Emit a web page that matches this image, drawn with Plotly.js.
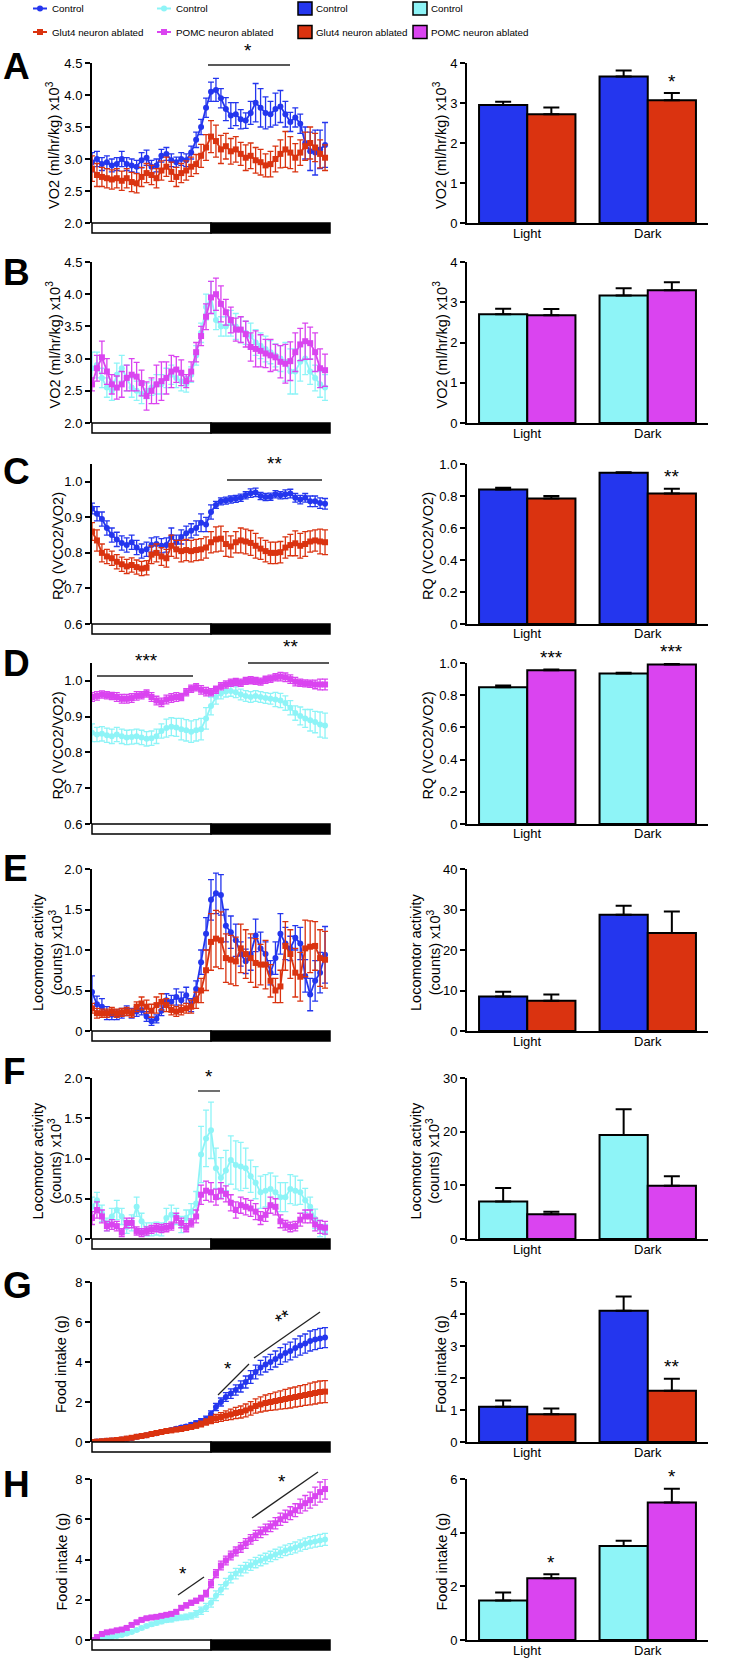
<!DOCTYPE html>
<html><head><meta charset="utf-8">
<script src="https://cdn.plot.ly/plotly-3.0.1.min.js"></script>
<style>html,body{margin:0;padding:0;background:#fff}</style>
</head><body><div id="chart" style="width:754px;height:1659px"></div>
<script>
// ---------------- DATA ----------------
const timeHours = [0,0.5,1,1.5,2,2.5,3,3.5,4,4.5,5,5.5,6,6.5,7,7.5,8,8.5,9,9.5,10,10.5,11,11.5,
  12,12.5,13,13.5,14,14.5,15,15.5,16,16.5,17,17.5,18,18.5,19,19.5,20,20.5,21,21.5,22,22.5,23,23.5];

// A: VO2, Glut4 model
const vo2Glut4Ctrl = [2.95,3.0,2.92,2.95,2.9,2.92,3.0,2.92, 2.9,2.88,2.98,3.02,2.88,2.9,3.05,3.08,
  2.98,2.95,3.0,2.98,3.1,3.3,3.5,3.8, 4.05,4.08,3.95,3.78,3.68,3.7,3.62,3.6,
  3.72,3.88,3.8,3.72,3.7,3.78,3.82,3.7, 3.58,3.65,3.55,3.25,3.12,3.1,3.15,3.22];
const vo2Glut4CtrlErr = [0.15,0.12,0.1,0.1,0.1,0.1,0.12,0.1, 0.1,0.1,0.12,0.12,0.1,0.1,0.1,0.1,
  0.1,0.08,0.1,0.1,0.1,0.12,0.12,0.15, 0.15,0.18,0.15,0.18,0.2,0.18,0.15,0.12,
  0.18,0.3,0.3,0.25,0.2,0.25,0.25,0.2, 0.15,0.15,0.15,0.25,0.3,0.35,0.3,0.35];
const vo2Glut4Abl = [2.85,2.75,2.72,2.7,2.68,2.7,2.66,2.7, 2.64,2.62,2.72,2.78,2.75,2.7,2.82,2.88,
  2.8,2.72,2.78,2.82,2.88,2.92,3.05,3.18, 3.35,3.28,3.15,3.2,3.12,3.15,3.08,3.02,
  3.05,2.98,2.95,2.9,2.92,3.0,3.08,3.15, 3.1,3.02,3.1,3.2,3.25,3.18,3.08,3.02];
const vo2Glut4AblErr = [0.2,0.18,0.15,0.15,0.15,0.15,0.15,0.15, 0.15,0.15,0.15,0.15,0.15,0.15,0.15,0.15,
  0.15,0.15,0.15,0.15,0.15,0.15,0.18,0.2, 0.25,0.25,0.22,0.2,0.2,0.2,0.18,0.2,
  0.2,0.2,0.2,0.18,0.2,0.2,0.22,0.28, 0.25,0.22,0.2,0.22,0.25,0.22,0.22,0.2];

// B: VO2, POMC model
const vo2PomcCtrl = [2.85,2.9,2.7,2.55,2.5,2.75,2.85,2.7, 2.55,2.5,2.45,2.5,2.55,2.6,2.6,2.7,
  2.75,2.7,2.65,2.6,2.75,3.05,3.4,3.8, 3.95,3.6,3.5,3.5,3.55,3.5,3.45,3.4,
  3.35,3.25,3.2,3.15,3.1,3.05,3.0,2.95, 2.8,2.8,2.95,3.0,2.8,2.7,2.6,2.55];
const vo2PomcCtrlErr = [0.25,0.2,0.15,0.15,0.15,0.18,0.2,0.2, 0.15,0.15,0.15,0.12,0.12,0.15,0.15,0.15,
  0.15,0.15,0.15,0.12,0.12,0.15,0.15,0.2, 0.25,0.15,0.15,0.15,0.2,0.2,0.2,0.18,
  0.2,0.2,0.2,0.2,0.18,0.18,0.2,0.3, 0.35,0.35,0.3,0.25,0.2,0.2,0.2,0.2];
const vo2PomcAbl = [2.6,2.85,3.02,2.8,2.6,2.55,2.6,2.7, 2.75,2.72,2.62,2.42,2.5,2.6,2.65,2.7,
  2.8,2.83,2.78,2.65,2.8,3.1,3.35,3.65, 3.95,4.0,3.85,3.72,3.6,3.45,3.45,3.38,
  3.18,3.15,3.12,3.08,3.05,3.02,2.95,2.92, 2.96,3.1,3.22,3.27,3.24,3.1,2.85,2.82];
const vo2PomcAblErr = [0.1,0.2,0.25,0.2,0.15,0.18,0.2,0.2, 0.25,0.22,0.2,0.22,0.2,0.3,0.3,0.25,
  0.25,0.2,0.2,0.1,0.15,0.15,0.15,0.2, 0.25,0.25,0.28,0.2,0.2,0.18,0.2,0.2,
  0.22,0.28,0.25,0.22,0.25,0.2,0.25,0.3, 0.3,0.3,0.25,0.28,0.25,0.3,0.3,0.25];

// C: RQ, Glut4 model
const rqGlut4Ctrl = [0.925,0.91,0.895,0.87,0.85,0.838,0.828,0.822, 0.83,0.815,0.805,0.81,0.822,0.825,0.82,0.822,
  0.845,0.83,0.845,0.855,0.862,0.87,0.885,0.88, 0.915,0.935,0.945,0.947,0.95,0.952,0.955,0.962,
  0.968,0.97,0.96,0.957,0.958,0.965,0.962,0.965, 0.967,0.955,0.95,0.955,0.945,0.945,0.94,0.938];
const rqGlut4CtrlErr = [0.015,0.02,0.02,0.02,0.02,0.02,0.02,0.02, 0.02,0.02,0.02,0.02,0.02,0.02,0.02,0.02,
  0.025,0.02,0.02,0.02,0.02,0.02,0.025,0.02, 0.02,0.01,0.01,0.01,0.01,0.01,0.01,0.01,
  0.012,0.012,0.01,0.01,0.01,0.01,0.01,0.012, 0.012,0.012,0.012,0.012,0.015,0.015,0.015,0.015];
const rqGlut4Abl = [0.86,0.835,0.8,0.79,0.785,0.775,0.768,0.762, 0.766,0.76,0.756,0.758,0.795,0.8,0.79,0.785,
  0.82,0.81,0.805,0.808,0.805,0.808,0.81,0.815, 0.83,0.838,0.84,0.825,0.818,0.83,0.835,0.832,
  0.828,0.82,0.812,0.805,0.8,0.8,0.802,0.815, 0.822,0.827,0.82,0.825,0.832,0.835,0.832,0.83];
const rqGlut4AblErr = [0.025,0.03,0.025,0.02,0.02,0.02,0.02,0.02, 0.02,0.02,0.02,0.02,0.025,0.025,0.025,0.025,
  0.03,0.025,0.03,0.03,0.03,0.03,0.03,0.03, 0.03,0.035,0.035,0.035,0.03,0.03,0.035,0.035,
  0.035,0.035,0.03,0.03,0.03,0.03,0.03,0.03, 0.03,0.035,0.035,0.035,0.03,0.03,0.035,0.035];

// D: RQ, POMC model
const rqPomcCtrl = [0.855,0.85,0.852,0.848,0.845,0.85,0.845,0.842, 0.843,0.845,0.842,0.838,0.84,0.845,0.86,0.868,
  0.872,0.87,0.865,0.862,0.858,0.862,0.865,0.895, 0.93,0.955,0.965,0.97,0.972,0.968,0.962,0.958,
  0.955,0.958,0.955,0.952,0.95,0.948,0.945,0.938, 0.925,0.91,0.902,0.895,0.89,0.885,0.878,0.875];
const rqPomcCtrlErr = [0.025,0.02,0.02,0.02,0.02,0.02,0.02,0.02, 0.02,0.02,0.02,0.02,0.02,0.02,0.02,0.025,
  0.025,0.025,0.03,0.03,0.03,0.03,0.03,0.03, 0.025,0.02,0.015,0.015,0.015,0.015,0.015,0.015,
  0.015,0.015,0.015,0.015,0.015,0.02,0.02,0.02, 0.02,0.02,0.025,0.025,0.03,0.03,0.035,0.035];
const rqPomcAbl = [0.955,0.958,0.962,0.96,0.958,0.955,0.95,0.95, 0.952,0.958,0.96,0.965,0.955,0.945,0.94,0.948,
  0.952,0.955,0.955,0.968,0.978,0.982,0.975,0.97, 0.968,0.975,0.985,0.99,0.995,0.997,0.995,1.0,
  1.002,1.0,0.998,1.003,1.006,1.01,1.012,1.01, 1.005,0.998,0.995,0.993,0.992,0.99,0.99,0.99];
const rqPomcAblErr = [0.012,0.012,0.01,0.01,0.01,0.012,0.012,0.012, 0.012,0.012,0.01,0.01,0.012,0.012,0.012,0.012,
  0.012,0.012,0.01,0.01,0.01,0.01,0.012,0.012, 0.01,0.01,0.01,0.01,0.01,0.01,0.01,0.01,
  0.01,0.01,0.01,0.01,0.01,0.01,0.012,0.012, 0.012,0.012,0.01,0.01,0.01,0.012,0.015,0.015];

// E: Locomotor activity, Glut4 model
const locoGlut4Ctrl = [0.48,0.33,0.3,0.22,0.2,0.2,0.22,0.25, 0.22,0.24,0.26,0.18,0.12,0.15,0.25,0.38,
  0.36,0.42,0.38,0.44,0.32,0.52,0.85,1.2, 1.62,1.7,1.68,1.3,1.22,1.12,0.95,0.86,
  0.95,1.18,1.02,0.95,0.72,0.9,1.2,1.08, 1.02,1.15,1.08,0.68,0.45,0.62,0.72,0.94];
const locoGlut4CtrlErr = [0.2,0.1,0.1,0.08,0.06,0.06,0.06,0.06, 0.06,0.06,0.06,0.06,0.05,0.05,0.06,0.08,
  0.08,0.1,0.1,0.1,0.08,0.1,0.15,0.2, 0.25,0.25,0.25,0.2,0.2,0.2,0.15,0.15,
  0.2,0.2,0.2,0.15,0.15,0.2,0.25,0.2, 0.15,0.15,0.2,0.2,0.2,0.25,0.25,0.35];
const locoGlut4Abl = [0.28,0.22,0.22,0.22,0.24,0.22,0.23,0.24, 0.22,0.3,0.34,0.3,0.25,0.32,0.36,0.32,
  0.26,0.24,0.26,0.28,0.3,0.38,0.5,0.75, 1.1,1.14,1.12,0.9,0.88,0.86,1.02,0.95,
  0.9,0.84,0.82,0.82,0.62,0.5,0.55,1.05, 0.95,0.72,0.67,1.02,1.04,1.05,0.9,0.88];
const locoGlut4AblErr = [0.06,0.06,0.05,0.05,0.05,0.05,0.05,0.05, 0.05,0.06,0.08,0.08,0.08,0.1,0.1,0.08,
  0.06,0.06,0.06,0.06,0.08,0.1,0.15,0.25, 0.35,0.35,0.35,0.3,0.3,0.3,0.3,0.3,
  0.3,0.3,0.25,0.3,0.2,0.15,0.2,0.3, 0.3,0.3,0.3,0.35,0.32,0.3,0.35,0.35];

// F: Locomotor activity, POMC model
const locoPomcCtrl = [0.4,0.48,0.32,0.18,0.28,0.36,0.28,0.15, 0.2,0.4,0.22,0.12,0.12,0.13,0.12,0.26,
  0.3,0.28,0.18,0.26,0.34,0.44,1.05,1.25, 1.35,0.88,0.76,0.85,0.98,0.92,0.9,0.88,
  0.78,0.7,0.58,0.6,0.62,0.58,0.52,0.52, 0.62,0.6,0.58,0.48,0.4,0.25,0.13,0.08];
const locoPomcCtrlErr = [0.12,0.1,0.1,0.08,0.1,0.12,0.1,0.08, 0.1,0.12,0.1,0.08,0.08,0.08,0.08,0.12,
  0.12,0.1,0.1,0.1,0.1,0.15,0.35,0.35, 0.35,0.25,0.25,0.25,0.3,0.3,0.3,0.25,
  0.2,0.2,0.2,0.2,0.2,0.2,0.18,0.18, 0.18,0.18,0.15,0.15,0.12,0.12,0.1,0.1];
const locoPomcAbl = [0.26,0.36,0.28,0.16,0.18,0.16,0.08,0.2, 0.2,0.1,0.08,0.1,0.12,0.14,0.13,0.14,
  0.16,0.26,0.2,0.14,0.2,0.28,0.55,0.6, 0.58,0.52,0.6,0.56,0.45,0.36,0.42,0.4,
  0.38,0.34,0.26,0.3,0.42,0.4,0.22,0.17, 0.15,0.16,0.24,0.28,0.28,0.18,0.15,0.14];
const locoPomcAblErr = [0.08,0.1,0.08,0.06,0.06,0.06,0.05,0.06, 0.06,0.05,0.05,0.05,0.05,0.05,0.05,0.05,
  0.05,0.06,0.06,0.05,0.05,0.08,0.12,0.12, 0.12,0.1,0.1,0.1,0.1,0.1,0.1,0.1,
  0.1,0.1,0.08,0.08,0.1,0.1,0.08,0.06, 0.06,0.06,0.08,0.08,0.08,0.08,0.08,0.08];

// G: Food intake, Glut4 model
const foodGlut4Ctrl = [0,0.02,0.04,0.06,0.08,0.1,0.12,0.16, 0.2,0.26,0.3,0.34,0.4,0.44,0.5,0.55,
  0.6,0.66,0.72,0.78,0.86,0.95,1.05,1.15, 1.4,1.75,2.0,2.25,2.42,2.6,2.78,3.0,
  3.25,3.5,3.72,3.88,4.0,4.15,4.3,4.45, 4.55,4.7,4.82,4.92,5.05,5.12,5.18,5.22];
const foodGlut4CtrlErr = [0.01,0.01,0.02,0.02,0.02,0.03,0.03,0.03, 0.04,0.04,0.04,0.05,0.05,0.06,0.06,0.06,
  0.07,0.08,0.08,0.09,0.1,0.1,0.12,0.14, 0.16,0.18,0.2,0.22,0.24,0.26,0.28,0.3,
  0.32,0.34,0.36,0.38,0.38,0.4,0.42,0.44, 0.44,0.46,0.48,0.48,0.5,0.5,0.5,0.5];
const foodGlut4Abl = [0,0.02,0.04,0.06,0.08,0.1,0.13,0.17, 0.21,0.26,0.3,0.34,0.4,0.45,0.5,0.55,
  0.58,0.62,0.65,0.7,0.75,0.82,0.9,1.0, 1.1,1.18,1.25,1.32,1.38,1.45,1.5,1.58,
  1.68,1.8,1.88,1.95,2.0,2.05,2.1,2.15, 2.2,2.25,2.3,2.35,2.4,2.45,2.5,2.52];
const foodGlut4AblErr = [0.01,0.01,0.02,0.02,0.02,0.03,0.03,0.03, 0.04,0.04,0.04,0.05,0.05,0.05,0.06,0.06,
  0.06,0.07,0.08,0.08,0.1,0.12,0.14,0.16, 0.18,0.2,0.22,0.24,0.26,0.28,0.3,0.32,
  0.34,0.36,0.38,0.4,0.42,0.44,0.46,0.48, 0.5,0.5,0.52,0.52,0.54,0.55,0.55,0.55];

// H: Food intake, POMC model
const foodPomcCtrl = [0,0.03,0.06,0.1,0.15,0.2,0.25,0.32, 0.4,0.5,0.6,0.7,0.78,0.85,0.92,0.98,
  1.02,1.08,1.12,1.15,1.2,1.3,1.45,1.62, 1.85,2.2,2.5,2.8,3.1,3.3,3.45,3.6,
  3.72,3.85,3.95,4.05,4.15,4.25,4.35,4.45, 4.52,4.6,4.7,4.78,4.85,4.9,4.95,5.0];
const foodPomcCtrlErr = [0.01,0.02,0.02,0.03,0.04,0.05,0.05,0.06, 0.06,0.07,0.08,0.08,0.09,0.1,0.1,0.1,
  0.12,0.12,0.12,0.14,0.15,0.16,0.18,0.2, 0.22,0.24,0.25,0.26,0.26,0.26,0.26,0.26,
  0.26,0.26,0.26,0.26,0.26,0.26,0.26,0.26, 0.27,0.27,0.28,0.28,0.28,0.29,0.3,0.3];
const foodPomcAbl = [0,0.15,0.3,0.38,0.42,0.48,0.52,0.6, 0.75,0.88,1.0,1.08,1.12,1.15,1.2,1.25,
  1.3,1.4,1.6,1.72,1.85,1.95,2.08,2.3, 2.8,3.3,3.7,3.95,4.2,4.4,4.6,4.8,
  5.0,5.2,5.35,5.5,5.65,5.8,6.0,6.15, 6.3,6.45,6.65,6.8,6.95,7.15,7.35,7.5];
const foodPomcAblErr = [0.02,0.05,0.06,0.06,0.06,0.07,0.07,0.08, 0.08,0.08,0.08,0.08,0.08,0.08,0.08,0.08,
  0.1,0.1,0.1,0.12,0.12,0.12,0.14,0.16, 0.2,0.2,0.22,0.22,0.22,0.22,0.24,0.24,
  0.24,0.25,0.26,0.26,0.26,0.28,0.3,0.3, 0.32,0.32,0.35,0.38,0.4,0.45,0.5,0.5];

// Bar panels (Light, Dark)
const phases = ['Light','Dark'];
const barVo2Glut4Ctrl = [2.95,3.66], barVo2Glut4CtrlErr = [0.08,0.15];
const barVo2Glut4Abl = [2.72,3.07], barVo2Glut4AblErr = [0.17,0.18];
const barVo2PomcCtrl = [2.7,3.17], barVo2PomcCtrlErr = [0.14,0.18];
const barVo2PomcAbl = [2.68,3.3], barVo2PomcAblErr = [0.15,0.2];
const barRqGlut4Ctrl = [0.84,0.945], barRqGlut4CtrlErr = [0.012,0.004];
const barRqGlut4Abl = [0.785,0.815], barRqGlut4AblErr = [0.015,0.03];
const barRqPomcCtrl = [0.85,0.935], barRqPomcCtrlErr = [0.01,0.004];
const barRqPomcAbl = [0.955,0.99], barRqPomcAblErr = [0.005,0.004];
const barLocoGlut4Ctrl = [8.5,28.7], barLocoGlut4CtrlErr = [1.2,2.2];
const barLocoGlut4Abl = [7.5,24.2], barLocoGlut4AblErr = [1.5,5.3];
const barLocoPomcCtrl = [7.0,19.4], barLocoPomcCtrlErr = [2.5,4.8];
const barLocoPomcAbl = [4.6,9.9], barLocoPomcAblErr = [0.5,1.8];
const barFoodGlut4Ctrl = [1.1,4.1], barFoodGlut4CtrlErr = [0.2,0.45];
const barFoodGlut4Abl = [0.87,1.6], barFoodGlut4AblErr = [0.18,0.38];
const barFoodPomcCtrl = [1.47,3.5], barFoodPomcCtrlErr = [0.3,0.2];
const barFoodPomcAbl = [2.3,5.12], barFoodPomcAblErr = [0.15,0.52];

// Significance marks on the bar panels: [Light, Dark] for the ablated group
const sigBarA = ['', '*'], sigBarB = ['', ''], sigBarC = ['', '**'], sigBarD = ['***','***'];
const sigBarE = ['', ''], sigBarF = ['', ''], sigBarG = ['', '**'], sigBarH = ['*','*'];

// ---------------- STYLE / LAYOUT ----------------
const W = 754, H = 1659;
const FONT = 'Liberation Sans, Arial, Helvetica, sans-serif';
const COL = {blue:'#2436ee', red:'#da3310', cyan:'#8ef4f7', magenta:'#da44f0'};
const X = px => px / W, Y = py => 1 - py / H;
const rowTop = [63,262,464,663,869,1078,1282,1479];
const rowBot = [223,423,624,824,1031,1239,1442,1640];
const LX = [92,330], BX = [467,708];

const glut4 = {ctrl:'blue', abl:'red', ctrlSym:'circle', ablSym:'square'};
const pomc = {ctrl:'cyan', abl:'magenta', ctrlSym:'circle', ablSym:'square'};

const panels = [
 {L:'A', g:glut4, ctrl:vo2Glut4Ctrl, ctrlE:vo2Glut4CtrlErr, abl:vo2Glut4Abl, ablE:vo2Glut4AblErr,
  yr:[2,4.5], yt:[2,2.5,3,3.5,4,4.5], ytt:['2.0','2.5','3.0','3.5','4.0','4.5'],
  title:'VO2 (ml/hr/kg) x10<sup>3</sup>', tx:53, letterY:66,
  bc:barVo2Glut4Ctrl, bce:barVo2Glut4CtrlErr, ba:barVo2Glut4Abl, bae:barVo2Glut4AblErr,
  br:[0,4], bt:[0,1,2,3,4], btt:['0','1','2','3','4'], btx:440, sig:sigBarA},
 {L:'B', g:pomc, ctrl:vo2PomcCtrl, ctrlE:vo2PomcCtrlErr, abl:vo2PomcAbl, ablE:vo2PomcAblErr,
  yr:[2,4.5], yt:[2,2.5,3,3.5,4,4.5], ytt:['2.0','2.5','3.0','3.5','4.0','4.5'],
  title:'VO2 (ml/hr/kg) x10<sup>3</sup>', tx:53, letterY:272,
  bc:barVo2PomcCtrl, bce:barVo2PomcCtrlErr, ba:barVo2PomcAbl, bae:barVo2PomcAblErr,
  br:[0,4], bt:[0,1,2,3,4], btt:['0','1','2','3','4'], btx:440, sig:sigBarB},
 {L:'C', g:glut4, ctrl:rqGlut4Ctrl, ctrlE:rqGlut4CtrlErr, abl:rqGlut4Abl, ablE:rqGlut4AblErr,
  yr:[0.6,1.05], yt:[0.6,0.7,0.8,0.9,1.0], ytt:['0.6','0.7','0.8','0.9','1.0'],
  title:'RQ (VCO2/VO2)', tx:58, letterY:471,
  bc:barRqGlut4Ctrl, bce:barRqGlut4CtrlErr, ba:barRqGlut4Abl, bae:barRqGlut4AblErr,
  br:[0,1.0], bt:[0,0.2,0.4,0.6,0.8,1.0], btt:['0','0.2','0.4','0.6','0.8','1.0'], btx:428, sig:sigBarC},
 {L:'D', g:pomc, ctrl:rqPomcCtrl, ctrlE:rqPomcCtrlErr, abl:rqPomcAbl, ablE:rqPomcAblErr,
  yr:[0.6,1.05], yt:[0.6,0.7,0.8,0.9,1.0], ytt:['0.6','0.7','0.8','0.9','1.0'],
  title:'RQ (VCO2/VO2)', tx:58, letterY:663,
  bc:barRqPomcCtrl, bce:barRqPomcCtrlErr, ba:barRqPomcAbl, bae:barRqPomcAblErr,
  br:[0,1.0], bt:[0,0.2,0.4,0.6,0.8,1.0], btt:['0','0.2','0.4','0.6','0.8','1.0'], btx:428, sig:sigBarD},
 {L:'E', g:glut4, ctrl:locoGlut4Ctrl, ctrlE:locoGlut4CtrlErr, abl:locoGlut4Abl, ablE:locoGlut4AblErr,
  yr:[0,2], yt:[0,0.5,1,1.5,2], ytt:['0','0.5','1.0','1.5','2.0'],
  title:'Locomotor activity<br>(counts) x10<sup>3</sup>', tx:47, letterY:868,
  bc:barLocoGlut4Ctrl, bce:barLocoGlut4CtrlErr, ba:barLocoGlut4Abl, bae:barLocoGlut4AblErr,
  br:[0,40], bt:[0,10,20,30,40], btt:['0','10','20','30','40'], btx:425, sig:sigBarE},
 {L:'F', g:pomc, ctrl:locoPomcCtrl, ctrlE:locoPomcCtrlErr, abl:locoPomcAbl, ablE:locoPomcAblErr,
  yr:[0,2], yt:[0,0.5,1,1.5,2], ytt:['0','0.5','1.0','1.5','2.0'],
  title:'Locomotor activity<br>(counts) x10<sup>3</sup>', tx:47, letterY:1071,
  bc:barLocoPomcCtrl, bce:barLocoPomcCtrlErr, ba:barLocoPomcAbl, bae:barLocoPomcAblErr,
  br:[0,30], bt:[0,10,20,30], btt:['0','10','20','30'], btx:425, sig:sigBarF},
 {L:'G', g:glut4, ctrl:foodGlut4Ctrl, ctrlE:foodGlut4CtrlErr, abl:foodGlut4Abl, ablE:foodGlut4AblErr,
  yr:[0,8], yt:[0,2,4,6,8], ytt:['0','2','4','6','8'],
  title:'Food intake (g)', tx:61, letterY:1285,
  bc:barFoodGlut4Ctrl, bce:barFoodGlut4CtrlErr, ba:barFoodGlut4Abl, bae:barFoodGlut4AblErr,
  br:[0,5], bt:[0,1,2,3,4,5], btt:['0','1','2','3','4','5'], btx:441, sig:sigBarG},
 {L:'H', g:pomc, ctrl:foodPomcCtrl, ctrlE:foodPomcCtrlErr, abl:foodPomcAbl, ablE:foodPomcAblErr,
  yr:[0,8], yt:[0,2,4,6,8], ytt:['0','2','4','6','8'],
  title:'Food intake (g)', tx:61, letterY:1484,
  bc:barFoodPomcCtrl, bce:barFoodPomcCtrlErr, ba:barFoodPomcAbl, bae:barFoodPomcAblErr,
  br:[0,6], bt:[0,2,4,6], btt:['0','2','4','6'], btx:441, sig:sigBarH}
];

// significance decorations on the time-course panels (pixel positions)
const lineSig = [
 {x0:208,y0:65,x1:290,y1:65, t:'*', tx:248, ty:63, a:0},
 {x0:227,y0:480,x1:322,y1:480, t:'**', tx:274, ty:476, a:0},
 {x0:97,y0:676,x1:193,y1:676, t:'***', tx:146, ty:673, a:0},
 {x0:248,y0:663,x1:329,y1:663, t:'**', tx:290, ty:659, a:0},
 {x0:198,y0:1091,x1:220,y1:1091, t:'*', tx:209, ty:1089, a:0},
 {x0:218,y0:1395,x1:249,y1:1364, t:'*', tx:228, ty:1381, a:0},
 {x0:254,y0:1358,x1:320,y1:1312, t:'**', tx:283, ty:1334, a:-35},
 {x0:178,y0:1595,x1:204,y1:1577, t:'*', tx:183, ty:1586, a:0},
 {x0:252,y0:1518,x1:318,y1:1472, t:'*', tx:282, ty:1494, a:0}
];

const traces = [], shapes = [], annotations = [];
const layout = {
  width: W, height: H, margin:{l:0,r:0,t:0,b:0}, paper_bgcolor:'#fff', plot_bgcolor:'rgba(0,0,0,0)',
  showlegend:false, barmode:'group', bargap:0.2, bargroupgap:0,
  font:{family:FONT, color:'#000', size:13}
};

panels.forEach((p, i) => {
  const li = i + 1, bi = i + 9;
  const top = rowTop[i], bot = rowBot[i];
  const dom = [Y(bot), Y(top)];
  // line subplot
  layout['xaxis' + li] = {domain:[X(LX[0]), X(LX[1])], range:[0,24], visible:false, anchor:'y' + li, fixedrange:true};
  layout['yaxis' + li] = {domain:dom, range:p.yr, tickvals:p.yt, ticktext:p.ytt, anchor:'x' + li,
    showline:true, linewidth:2, linecolor:'#000', ticks:'outside', ticklen:5, tickwidth:2, tickcolor:'#000',
    showgrid:false, zeroline:false, tickfont:{size:13, family:FONT}};
  const mk = (name, y, e, colKey, sym) => ({
    type:'scatter', mode:'lines+markers', x:timeHours, y:y, xaxis:'x' + li, yaxis:'y' + li,
    line:{color:COL[colKey], width:1.8}, marker:{color:COL[colKey], size:6, symbol:sym},
    error_y:{type:'data', array:e, color:COL[colKey], thickness:1.3, width:3}, name:name
  });
  traces.push(mk('Control', p.ctrl, p.ctrlE, p.g.ctrl, p.g.ctrlSym));
  traces.push(mk('Ablated', p.abl, p.ablE, p.g.abl, p.g.ablSym));
  // light/dark bar under time axis
  const xl = t => X(LX[0] + t / 24 * (LX[1] - LX[0]));
  shapes.push({type:'rect', xref:'paper', yref:'paper', x0:xl(0), x1:xl(12), y0:Y(bot + 10), y1:Y(bot),
    line:{color:'#000', width:1.5}, fillcolor:'#fff'});
  shapes.push({type:'rect', xref:'paper', yref:'paper', x0:xl(12), x1:xl(24), y0:Y(bot + 10), y1:Y(bot),
    line:{color:'#000', width:1.5}, fillcolor:'#000'});
  // panel letter
  annotations.push({xref:'paper', yref:'paper', x:X(1), y:Y(p.letterY), xanchor:'left', yanchor:'middle',
    text:'<b>' + p.L + '</b>', showarrow:false, font:{size:37, family:FONT, color:'#000'}});
  // y titles
  annotations.push({xref:'paper', yref:'paper', x:X(p.tx), y:Y((top + bot) / 2 + 2), xanchor:'center', yanchor:'middle',
    text:p.title, textangle:-90, showarrow:false, font:{size:14.5, family:FONT, color:'#000'}});
  annotations.push({xref:'paper', yref:'paper', x:X(p.btx), y:Y((top + bot) / 2 + 2), xanchor:'center', yanchor:'middle',
    text:p.title, textangle:-90, showarrow:false, font:{size:14.5, family:FONT, color:'#000'}});
  // bar subplot
  layout['xaxis' + bi] = {domain:[X(BX[0]), X(BX[1])], type:'category', range:[-0.5,1.5], anchor:'y' + bi,
    showline:true, linewidth:2, linecolor:'#000', ticks:'', showgrid:false, zeroline:false,
    showticklabels:false, fixedrange:true};
  layout['yaxis' + bi] = {domain:dom, range:p.br, tickvals:p.bt, ticktext:p.btt, anchor:'x' + bi,
    showline:true, linewidth:2, linecolor:'#000', ticks:'outside', ticklen:5, tickwidth:2, tickcolor:'#000',
    showgrid:false, zeroline:false, tickfont:{size:13, family:FONT}};
  const mb = (name, y, e, colKey) => ({
    type:'bar', x:phases, y:y, xaxis:'x' + bi, yaxis:'y' + bi, name:name,
    marker:{color:COL[colKey], line:{color:'#000', width:2}},
    error_y:{type:'data', symmetric:false, array:e, arrayminus:[0,0], color:'#000', thickness:2, width:8}
  });
  traces.push(mb('Control', p.bc, p.bce, p.g.ctrl));
  traces.push(mb('Ablated', p.ba, p.bae, p.g.abl));
  // category labels under bar groups
  phases.forEach((ph, c) => {
    const px = BX[0] + (c + 0.5) / 2 * (BX[1] - BX[0]);
    annotations.push({xref:'paper', yref:'paper', x:X(px), y:Y(bot + 10), xanchor:'center', yanchor:'middle',
      text:ph, showarrow:false, font:{size:13, family:FONT, color:'#000'}});
  });
  // stars above ablated bars
  p.sig.forEach((s, c) => {
    if (!s) return;
    const v = p.ba[c] + p.bae[c];
    const py = bot - (v - p.br[0]) / (p.br[1] - p.br[0]) * (bot - top);
    const px = BX[0] + (c + 0.2 + 0.5) / 2 * (BX[1] - BX[0]);
    annotations.push({xref:'paper', yref:'paper', x:X(px), y:Y(py - 12), xanchor:'center', yanchor:'middle',
      text:s, showarrow:false, font:{size:19, family:FONT, color:'#000'}});
  });
});

lineSig.forEach(s => {
  shapes.push({type:'line', xref:'paper', yref:'paper', x0:X(s.x0), y0:Y(s.y0), x1:X(s.x1), y1:Y(s.y1),
    line:{color:'#222', width:1.3}});
  annotations.push({xref:'paper', yref:'paper', x:X(s.tx), y:Y(s.ty), xanchor:'center', yanchor:'bottom',
    text:s.t, textangle:s.a, showarrow:false, font:{size:19, family:FONT, color:'#000'}});
});

// legends (drawn as shapes + text)
const legRows = [8.5, 32];
const lineLeg = [
  {x:33, col:'blue', sym:'circle', txt:'Control', r:0},
  {x:33, col:'red', sym:'square', txt:'Glut4 neuron ablated', r:1},
  {x:157, col:'cyan', sym:'circle', txt:'Control', r:0},
  {x:157, col:'magenta', sym:'square', txt:'POMC neuron ablated', r:1}
];
lineLeg.forEach(l => {
  const y = legRows[l.r];
  shapes.push({type:'line', xref:'paper', yref:'paper', x0:X(l.x), x1:X(l.x + 14), y0:Y(y), y1:Y(y),
    line:{color:COL[l.col], width:2}});
  const cx = l.x + 7;
  shapes.push({type:l.sym === 'circle' ? 'circle' : 'rect', xref:'paper', yref:'paper',
    x0:X(cx - 3), x1:X(cx + 3), y0:Y(y + 3), y1:Y(y - 3), line:{width:0}, fillcolor:COL[l.col]});
  annotations.push({xref:'paper', yref:'paper', x:X(l.x + 17), y:Y(y), xanchor:'left', yanchor:'middle',
    text:l.txt, showarrow:false, font:{size:9.8, family:FONT, color:'#000'}});
});
const barLeg = [
  {x:298, col:'blue', txt:'Control', r:0},
  {x:298, col:'red', txt:'Glut4 neuron ablated', r:1},
  {x:413, col:'cyan', txt:'Control', r:0},
  {x:413, col:'magenta', txt:'POMC neuron ablated', r:1}
];
barLeg.forEach(l => {
  const y = legRows[l.r];
  shapes.push({type:'rect', xref:'paper', yref:'paper', x0:X(l.x), x1:X(l.x + 14), y0:Y(y + 6.5), y1:Y(y - 6.5),
    line:{color:'#000', width:1.5}, fillcolor:COL[l.col]});
  annotations.push({xref:'paper', yref:'paper', x:X(l.x + 16), y:Y(y), xanchor:'left', yanchor:'middle',
    text:l.txt, showarrow:false, font:{size:9.8, family:FONT, color:'#000'}});
});

layout.shapes = shapes;
layout.annotations = annotations;
Plotly.newPlot('chart', traces, layout, {staticPlot:true, displayModeBar:false});
</script></body></html>
